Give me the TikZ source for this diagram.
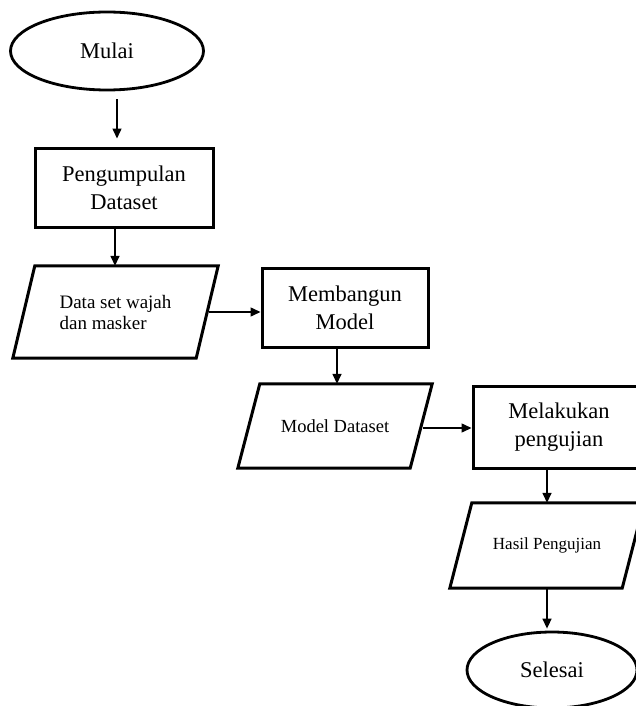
\documentclass[tikz,border=0pt]{standalone}
\usepackage{fontspec}
\setmainfont{Liberation Serif}
\usepackage{tikz}
\usetikzlibrary{shapes.geometric,arrows.meta}

\begin{document}
\begin{tikzpicture}[x=1pt,y=-1pt,
  terminal/.style={ellipse,draw,line width=2.8pt,inner sep=0pt,font=\fontsize{22.5}{28}\selectfont},
  proses/.style={rectangle,draw,line width=3pt,inner sep=0pt,align=center,font=\fontsize{22.5}{28}\selectfont},
  io/.style={rectangle,inner sep=0pt,minimum width=194pt,minimum height=84pt,font=\fontsize{18.5}{21}\selectfont},
  garis/.style={line width=3pt,line join=miter},
  arr/.style={line width=1.5pt,-{Triangle[length=10pt,width=9pt]}}]
\useasboundingbox (0,0) rectangle (635,706);
\node[terminal,minimum width=193pt,minimum height=78pt] (mulai) at (107,51) {Mulai};
\node[proses,minimum width=178pt,minimum height=79pt] (kumpul) at (124,187.5) {Pengumpulan\\Dataset};
\node[io,minimum width=205pt,minimum height=92pt,align=left,font=\fontsize{19}{21}\selectfont] (data) at (115.5,312) {Data set wajah\\dan masker};
\node[proses,minimum width=166pt,minimum height=79pt] (bangun) at (345,307.5) {Membangun\\Model};
\node[io] (model) at (335,426) {Model Dataset};
\node[proses,minimum width=172pt,minimum height=82pt] (uji) at (559,427) {Melakukan\\pengujian};
\node[io,minimum height=85pt,font=\fontsize{17}{20}\selectfont] (hasil) at (547,545.5) {Hasil Pengujian};
\node[terminal,minimum width=170pt,minimum height=76pt] (selesai) at (552,670) {Selesai};
% jajaran genjang input/output
\foreach \n in {data,model,hasil}
  \draw[garis] ([xshift=22pt]\n.north west) -- (\n.north east) -- ([xshift=-22pt]\n.south east) -- (\n.south west) -- cycle;
% alur
\draw[arr] ([xshift=10pt,yshift=-8pt]mulai.south) -- ([xshift=-7pt,yshift=8pt]kumpul.north);
\draw[arr] ([xshift=-9pt]kumpul.south) -- ([xshift=-9pt]kumpul.south |- data.north);
\draw[arr] ([xshift=-9pt]data.east) -- (data.east -| bangun.west);
\draw[arr] ([xshift=-8pt]bangun.south) -- ([xshift=-8pt]bangun.south |- model.north);
\draw[arr] ([xshift=-9pt,yshift=-2pt]model.east) -- ([yshift=-2pt]model.east -| uji.west);
\draw[arr] ([xshift=-12pt]uji.south) -- ([xshift=-12pt]uji.south |- hasil.north);
\draw[arr] (hasil.south) -- ([yshift=2pt]hasil.south |- selesai.north);
\end{tikzpicture}
\end{document}
